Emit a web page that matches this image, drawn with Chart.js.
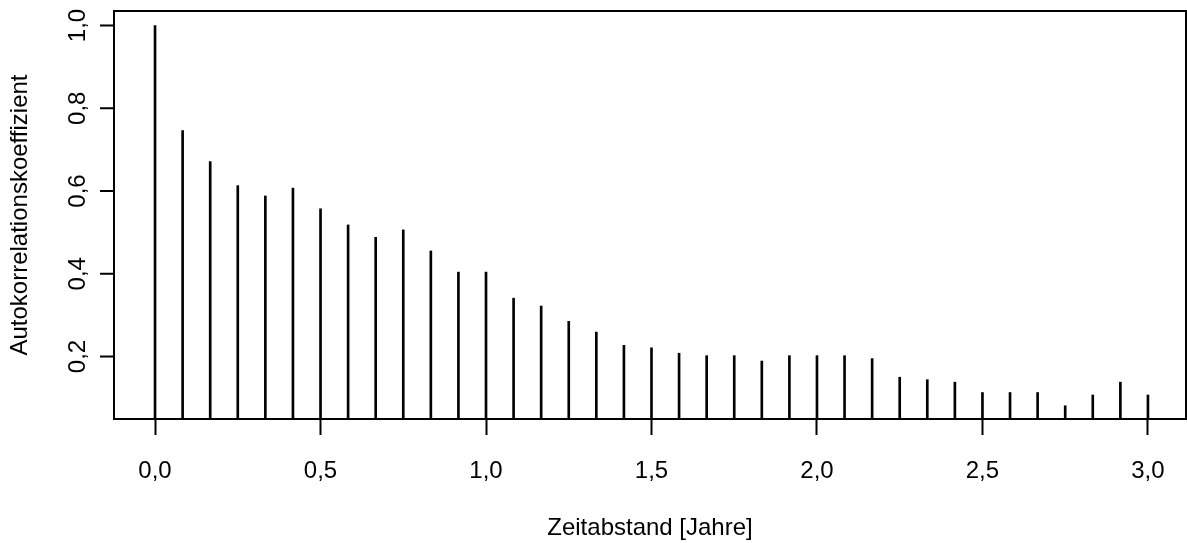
<!DOCTYPE html>
<html>
<head>
<meta charset="utf-8">
<script src="https://cdn.jsdelivr.net/npm/chart.js@4.4.0/dist/chart.umd.min.js"></script>
<style>
  html, body { margin: 0; padding: 0; background: #fff; }
  #wrap { width: 1187px; height: 543px; position: relative; }
</style>
</head>
<body>
<div id="wrap"><canvas id="acf"></canvas></div>
<script>
// Lag in months and the autocorrelation coefficient at each lag
const lagMonths = [0, 1, 2, 3, 4, 5, 6, 7, 8, 9, 10, 11, 12, 13, 14, 15, 16, 17, 18,
                   19, 20, 21, 22, 23, 24, 25, 26, 27, 28, 29, 30, 31, 32, 33, 34, 35, 36];
const acfValues = [1.000, 0.746, 0.671, 0.613, 0.588, 0.607, 0.557, 0.518, 0.488, 0.506,
                   0.455, 0.404, 0.404, 0.341, 0.322, 0.285, 0.259, 0.227, 0.221, 0.208,
                   0.202, 0.202, 0.189, 0.202, 0.202, 0.202, 0.195, 0.150, 0.144, 0.138,
                   0.113, 0.113, 0.113, 0.081, 0.107, 0.138, 0.107];
const xTickValues = [0, 0.5, 1.0, 1.5, 2.0, 2.5, 3.0];
const yTickValues = [0.2, 0.4, 0.6, 0.8, 1.0];
const xTitle = 'Zeitabstand [Jahre]';
const yTitle = 'Autokorrelationskoeffizient';

const FONT_FAMILY = '"Liberation Sans", Arial, Helvetica, sans-serif';
const FONT_SIZE = 24;
const fmt = v => Number(v).toFixed(1).replace('.', ',');

// Box around the plot region, y tick marks and rotated y tick labels
const framePlugin = {
  id: 'frame',
  afterDraw(chart) {
    const { ctx, chartArea: a, scales: { y } } = chart;
    ctx.save();
    ctx.strokeStyle = '#000';
    ctx.lineWidth = 2;
    ctx.strokeRect(a.left, a.top, a.right - a.left, a.bottom - a.top);
    ctx.fillStyle = '#000';
    ctx.font = FONT_SIZE + 'px ' + FONT_FAMILY;
    ctx.textAlign = 'center';
    ctx.textBaseline = 'alphabetic';
    y.ticks.forEach(t => {
      const py = y.getPixelForValue(t.value);
      ctx.beginPath();
      ctx.moveTo(a.left - 14, py);
      ctx.lineTo(a.left, py);
      ctx.stroke();
      ctx.save();
      ctx.translate(a.left - 29, py);
      ctx.rotate(-Math.PI / 2);
      ctx.fillText(fmt(t.value), 0, 0);
      ctx.restore();
    });
    ctx.restore();
  }
};

new Chart(document.getElementById('acf'), {
  type: 'bar',
  data: {
    datasets: [{
      data: lagMonths.map((m, i) => ({ x: m / 12, y: acfValues[i] })),
      backgroundColor: '#000',
      borderWidth: 0,
      barThickness: 2
    }]
  },
  plugins: [framePlugin],
  options: {
    responsive: true,
    maintainAspectRatio: false,
    animation: false,
    devicePixelRatio: 1,
    layout: { padding: { top: 11, right: 1, left: 0, bottom: 0 } },
    plugins: { legend: { display: false }, tooltip: { enabled: false } },
    scales: {
      x: {
        type: 'linear',
        min: -0.124,
        max: 3.115,
        offset: false,
        border: { display: false },
        grid: { display: true, offset: false, drawOnChartArea: false, drawTicks: true,
                tickLength: 16, tickWidth: 2, tickColor: '#000' },
        ticks: { color: '#000', font: { family: FONT_FAMILY, size: FONT_SIZE },
                 padding: 22, autoSkip: false, maxRotation: 0, callback: v => fmt(v) },
        title: { display: true, text: xTitle, color: '#000',
                 font: { family: FONT_FAMILY, size: FONT_SIZE }, padding: { top: 0, bottom: 0 } },
        afterBuildTicks(s) { s.ticks = xTickValues.map(v => ({ value: v })); },
        afterFit(s) { s.height = 124; }
      },
      y: {
        type: 'linear',
        min: 0.049,
        max: 1.035,
        border: { display: false },
        grid: { display: false },
        ticks: { display: false },
        title: { display: true, text: yTitle, color: '#000',
                 font: { family: FONT_FAMILY, size: FONT_SIZE }, padding: { top: 5.6, bottom: 0 } },
        afterBuildTicks(s) { s.ticks = yTickValues.map(v => ({ value: v })); },
        afterFit(s) { s.width = 114; }
      }
    }
  }
});
</script>
</body>
</html>
